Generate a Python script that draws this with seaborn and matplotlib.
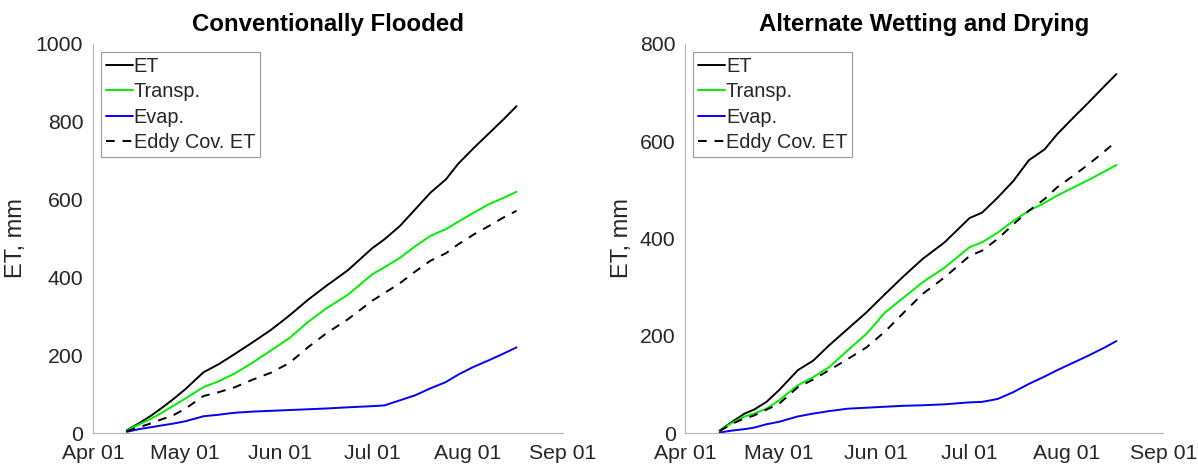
import pandas as pd
import matplotlib.pyplot as plt
import matplotlib.dates as mdates
import seaborn as sns

# days after Apr 01 at which the cumulative values were read
days = [11, 15, 19, 22, 26, 30, 36, 41, 46, 52, 58, 64, 70, 76, 83, 91,
        95, 100, 105, 110, 115, 119, 124, 129, 134, 138]

# Conventionally Flooded (mm)
cf_et = [7, 25, 45, 62, 86, 112, 156, 177, 202, 233, 265, 302, 342, 378, 418, 475,
         498, 532, 575, 618, 652, 692, 732, 770, 808, 840]
cf_transp = [7, 22, 37, 50, 69, 88, 118, 133, 152, 181, 212, 244, 285, 320, 355, 408,
             426, 450, 480, 507, 524, 543, 566, 588, 605, 620]
cf_evap = [3, 10, 15, 19, 24, 30, 43, 47, 52, 55, 57, 59, 61, 63, 66, 69,
           71, 84, 97, 115, 131, 150, 170, 187, 205, 220]
cf_eddy = [5, 15, 25, 34, 45, 62, 95, 105, 117, 137, 155, 180, 220, 256, 292, 340,
           360, 385, 415, 443, 462, 485, 510, 532, 555, 571]

# Alternate Wetting and Drying (mm)
awd_et = [5, 23, 40, 48, 64, 88, 129, 149, 180, 214, 248, 286, 323, 358, 392, 442,
          453, 484, 518, 561, 583, 614, 647, 679, 712, 738]
awd_transp = [5, 21, 34, 40, 50, 67, 98, 115, 135, 170, 204, 248, 279, 310, 340, 382,
              392, 412, 436, 457, 473, 488, 504, 520, 537, 551]
awd_evap = [1, 5, 8, 11, 18, 23, 34, 40, 45, 50, 52, 54, 56, 57, 59, 63,
            64, 70, 84, 101, 116, 129, 144, 159, 175, 189]
awd_eddy = [4, 19, 30, 36, 48, 60, 94, 110, 129, 152, 176, 209, 248, 286, 320, 364,
            375, 399, 429, 457, 481, 505, 528, 552, 578, 600]

start = pd.Timestamp('2019-04-01')
dates = start + pd.to_timedelta(days, unit='D')

sns.set_theme(style="white")
plt.rcParams['font.family'] = ['Liberation Sans', 'DejaVu Sans']

text_col = '#262626'
spine_col = '#b4b4b4'

fig = plt.figure(figsize=(11.98, 4.66), dpi=100)
ax1 = fig.add_axes([0.0776, 0.0708, 0.392, 0.835])
ax2 = fig.add_axes([0.572, 0.0708, 0.399, 0.835])

panels = [
    (ax1, 'Conventionally Flooded', cf_et, cf_transp, cf_evap, cf_eddy, 1000, -0.140),
    (ax2, 'Alternate Wetting and Drying', awd_et, awd_transp, awd_evap, awd_eddy, 800, -0.109),
]

for ax, title, et, tr, ev, ed, ymax, ylab_x in panels:
    df = pd.DataFrame({'date': dates, 'ET': et, 'Transp.': tr, 'Evap.': ev, 'Eddy Cov. ET': ed})
    sns.lineplot(data=df, x='date', y='ET', ax=ax, color='black', lw=1.4, label='ET')
    sns.lineplot(data=df, x='date', y='Transp.', ax=ax, color='#00ee00', lw=1.4, label='Transp.')
    sns.lineplot(data=df, x='date', y='Evap.', ax=ax, color='#0000ff', lw=1.4, label='Evap.')
    sns.lineplot(data=df, x='date', y='Eddy Cov. ET', ax=ax, color='black', lw=1.4,
                 linestyle=(0, (4.5, 4)), label='Eddy Cov. ET')

    ax.set_xlim(start, pd.Timestamp('2019-09-01'))
    ax.set_ylim(0, ymax)
    ax.set_yticks(range(0, ymax + 1, 200))
    ax.xaxis.set_major_locator(mdates.MonthLocator())
    ax.xaxis.set_major_formatter(mdates.DateFormatter('%b %d'))

    ax.set_title(title, fontsize=17.3, fontweight='bold', color='black', pad=9)
    ax.set_xlabel('')
    ax.set_ylabel('ET, mm', fontsize=17, color=text_col)
    ax.yaxis.set_label_coords(ylab_x, 0.5)
    ax.tick_params(direction='in', length=4, width=0.8, colors=spine_col,
                   labelcolor=text_col, labelsize=15.3)
    ax.tick_params(axis='x', pad=8)
    ax.tick_params(axis='y', pad=7)

    for s in ['top', 'right']:
        ax.spines[s].set_visible(False)
    for s in ['left', 'bottom']:
        ax.spines[s].set_color(spine_col)
        ax.spines[s].set_linewidth(0.8)

    leg = ax.legend(loc='upper left', fontsize=14.3, frameon=True, fancybox=False,
                    handlelength=1.35, handletextpad=0.05, labelspacing=0.32,
                    borderpad=0.25, borderaxespad=0.4, framealpha=1)
    leg.get_frame().set_edgecolor('#9a9a9a')
    leg.get_frame().set_linewidth(0.8)
    for t in leg.get_texts():
        t.set_color(text_col)

fig.savefig('out.png', dpi=100)
